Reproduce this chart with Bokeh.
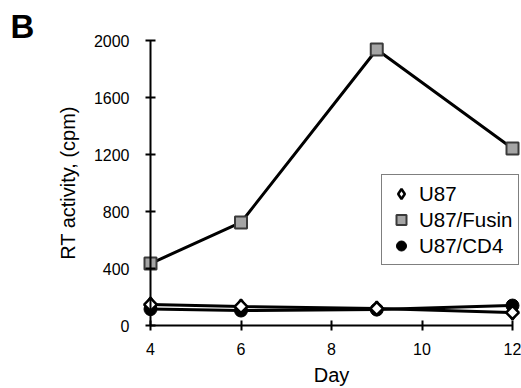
from bokeh.plotting import figure
from bokeh.models import FixedTicker, Legend, LegendItem, Label, Range1d
from bokeh.embed import file_html
from bokeh.resources import INLINE
import math

days = [4, 6, 9, 12]
u87 = [147, 133, 119, 91]
fusin = [435, 723, 1937, 1242]
cd4 = [115, 105, 112, 140]
x_ticks = [4, 6, 8, 10, 12]
y_ticks = [0, 400, 800, 1200, 1600, 2000]

FONT = "Liberation Sans"
W, H = 521, 388
# pixel mapping (figure pixels): x=4 at 150, 45.25 px/day; y=0 at 325, 0.1425 px/unit
PX_X0, SX = 150.0, 45.25
PX_Y0, SY = 325.0, 0.1425
x_start = 4 - PX_X0 / SX
x_end = 4 + (W - PX_X0) / SX
y_start = -(H - PX_Y0) / SY
y_end = PX_Y0 / SY

p = figure(width=W, height=H, output_backend="svg", toolbar_location=None,
           x_range=Range1d(x_start, x_end), y_range=Range1d(y_start, y_end),
           min_border_left=0, min_border_right=0, min_border_top=0, min_border_bottom=0)
p.outline_line_color = None
p.xgrid.visible = False
p.ygrid.visible = False
p.background_fill_color = "white"
p.border_fill_color = "white"

for ax in (p.xaxis[0], p.yaxis[0]):
    ax.axis_line_width = 2
    ax.axis_line_color = "black"
    ax.major_tick_line_width = 2
    ax.major_tick_line_color = "black"
    ax.major_tick_in = 5
    ax.major_tick_out = 5
    ax.minor_tick_line_color = None
    ax.major_label_text_font = FONT
    ax.major_label_text_font_size = "16px"
    ax.major_label_text_color = "black"
    ax.axis_label_text_font = FONT
    ax.axis_label_text_font_size = "20px"
    ax.axis_label_text_font_style = "normal"
    ax.axis_label_text_color = "black"

p.xaxis[0].ticker = FixedTicker(ticks=x_ticks)
p.yaxis[0].ticker = FixedTicker(ticks=y_ticks)
p.xaxis[0].bounds = (4, 12)
p.yaxis[0].bounds = (0, 2000)
p.xaxis[0].fixed_location = 0
p.yaxis[0].fixed_location = 4
p.xaxis[0].axis_label = "Day"
p.yaxis[0].axis_label = "RT activity, (cpm)"
p.xaxis[0].major_label_standoff = 12
p.yaxis[0].major_label_standoff = 16
p.xaxis[0].axis_label_standoff = 6
p.yaxis[0].axis_label_standoff = 12

p.line(days, fusin, line_color="black", line_width=3)
p.line(days, u87, line_color="black", line_width=3)
p.line(days, cd4, line_color="black", line_width=3)

r_f = p.scatter(days, fusin, marker="square", size=12, fill_color="#a5a5a5",
                line_color="#3a3a3a", line_width=2)
r_c = p.scatter(days, cd4, marker="circle", size=13, fill_color="black", line_color="black")
# diamond glyph (used for the legend), covered by the rotated square on the plot
r_ud = p.scatter(days, u87, marker="diamond", size=14, fill_color="white",
                 line_color="black", line_width=2.5)
p.scatter(days, u87, marker="square", angle=math.pi / 4, size=9, fill_color="white",
          line_color="black", line_width=2.5)

legend = Legend(items=[LegendItem(label="U87", renderers=[r_ud]),
                       LegendItem(label="U87/Fusin", renderers=[r_f]),
                       LegendItem(label="U87/CD4", renderers=[r_c])],
                location=(381, 123))
legend.label_text_font = FONT
legend.label_text_font_size = "20.5px"
legend.label_text_color = "black"
legend.border_line_color = "black"
legend.border_line_width = 1.5
legend.background_fill_alpha = 1
legend.padding = 6
legend.spacing = 1
legend.glyph_width = 26
legend.glyph_height = 25
legend.label_standoff = 5
legend.margin = 0
p.add_layout(legend, "center")

lab = Label(x=4 + (10 - PX_X0) / SX, y=(PX_Y0 - 7) / SY, text="B", text_font=FONT,
            text_font_size="33px", text_font_style="bold", text_color="black",
            text_baseline="top")
p.add_layout(lab)

open("out.html", "w").write(file_html(p, INLINE))
